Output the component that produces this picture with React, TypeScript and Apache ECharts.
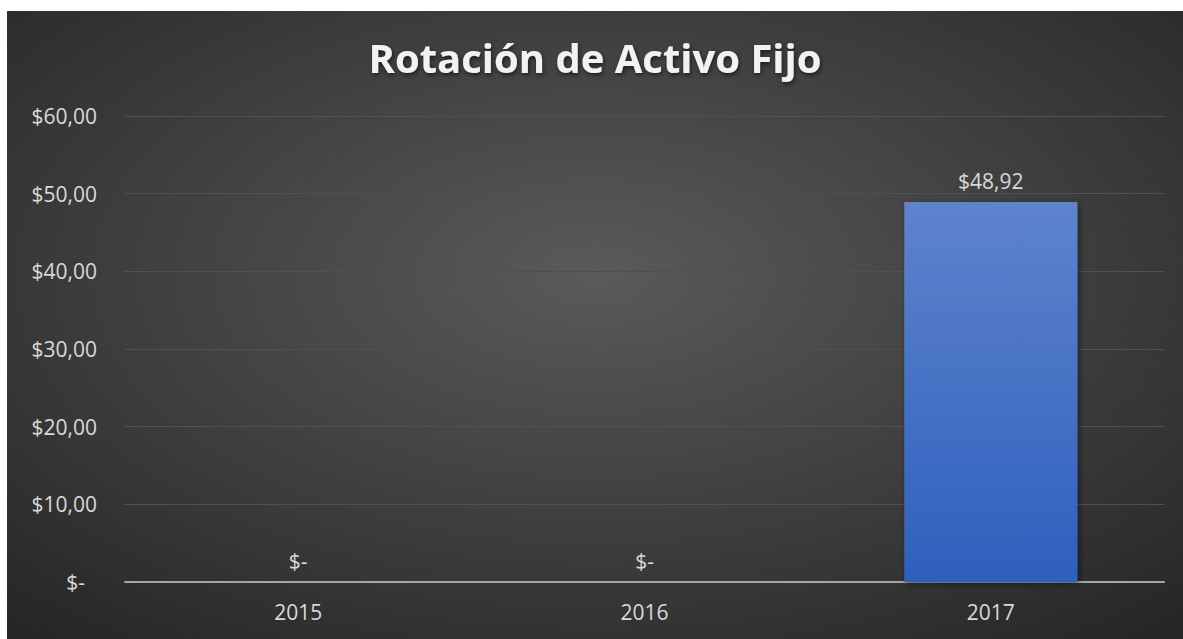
import React, { useEffect, useRef } from "react";
import * as echarts from "echarts";

const categories = ["2015", "2016", "2017"];
const values = [0, 0, 48.92];
const yTicks = { min: 0, max: 60, interval: 10 };
const titleText = "Rotación de Activo Fijo";

const fmt = (v: number) => (v === 0 ? "$-" : "$" + v.toFixed(2).replace(".", ","));

export default function App() {
  const ref = useRef<HTMLDivElement>(null);
  useEffect(() => {
    const chart = echarts.init(ref.current!, undefined, { renderer: "svg" });
    const fs = 21;
    chart.setOption({
      animation: false,
      backgroundColor: {
        type: "radial",
        x: 0.5,
        y: 0.42,
        r: 0.75,
        colorStops: [
          { offset: 0, color: "#5a5a5a" },
          { offset: 1, color: "#262626" },
        ],
      },
      title: {
        text: titleText,
        left: "center",
        top: 21,
        textStyle: {
          fontFamily: "Open Sans",
          fontWeight: "bold",
          fontSize: 40,
          color: "#f2f2f2",
          textShadowColor: "rgba(0,0,0,0.6)",
          textShadowBlur: 4,
          textShadowOffsetX: 1,
          textShadowOffsetY: 2,
        },
      },
      grid: { left: 118, right: 19, top: 105, bottom: 57 },
      xAxis: {
        type: "category",
        data: categories,
        axisLine: { lineStyle: { color: "#a6a6a6", width: 2 } },
        axisTick: { show: false },
        axisLabel: {
          color: "#d9d9d9",
          fontFamily: "Open Sans",
          fontSize: fs,
          margin: 19,
        },
      },
      yAxis: {
        type: "value",
        min: yTicks.min,
        max: yTicks.max,
        interval: yTicks.interval,
        axisLine: { show: false },
        axisTick: { show: false },
        splitLine: { lineStyle: { color: "#505050", width: 1 } },
        axisLabel: {
          color: "#d9d9d9",
          fontFamily: "Open Sans",
          fontSize: fs,
          margin: 28,
          formatter: (v: number) => (v === 0 ? "{z|$-}" : fmt(v)),
          rich: {
            z: {
              color: "#d9d9d9",
              fontFamily: "Open Sans",
              fontSize: fs,
              padding: [0, 12, 0, 0],
            },
          },
        },
      },
      series: [
        {
          type: "bar",
          data: values,
          barWidth: "50%",
          itemStyle: {
            color: {
              type: "linear",
              x: 0,
              y: 0,
              x2: 0,
              y2: 1,
              colorStops: [
                { offset: 0, color: "#5f83cd" },
                { offset: 1, color: "#2d60bd" },
              ],
            },
            shadowColor: "rgba(0,0,0,0.45)",
            shadowBlur: 6,
            shadowOffsetX: 2,
            shadowOffsetY: 2,
          },
          label: {
            show: true,
            position: "top",
            distance: 11,
            color: "#d9d9d9",
            fontFamily: "Open Sans",
            fontSize: fs,
            formatter: (p: any) => fmt(p.value),
          },
          z: 1,
        },
      ],
    });
    return () => chart.dispose();
  }, []);
  return (
    <div
      ref={ref}
      style={{ position: "absolute", left: 7, top: 11, width: 1176, height: 628 }}
    />
  );
}
